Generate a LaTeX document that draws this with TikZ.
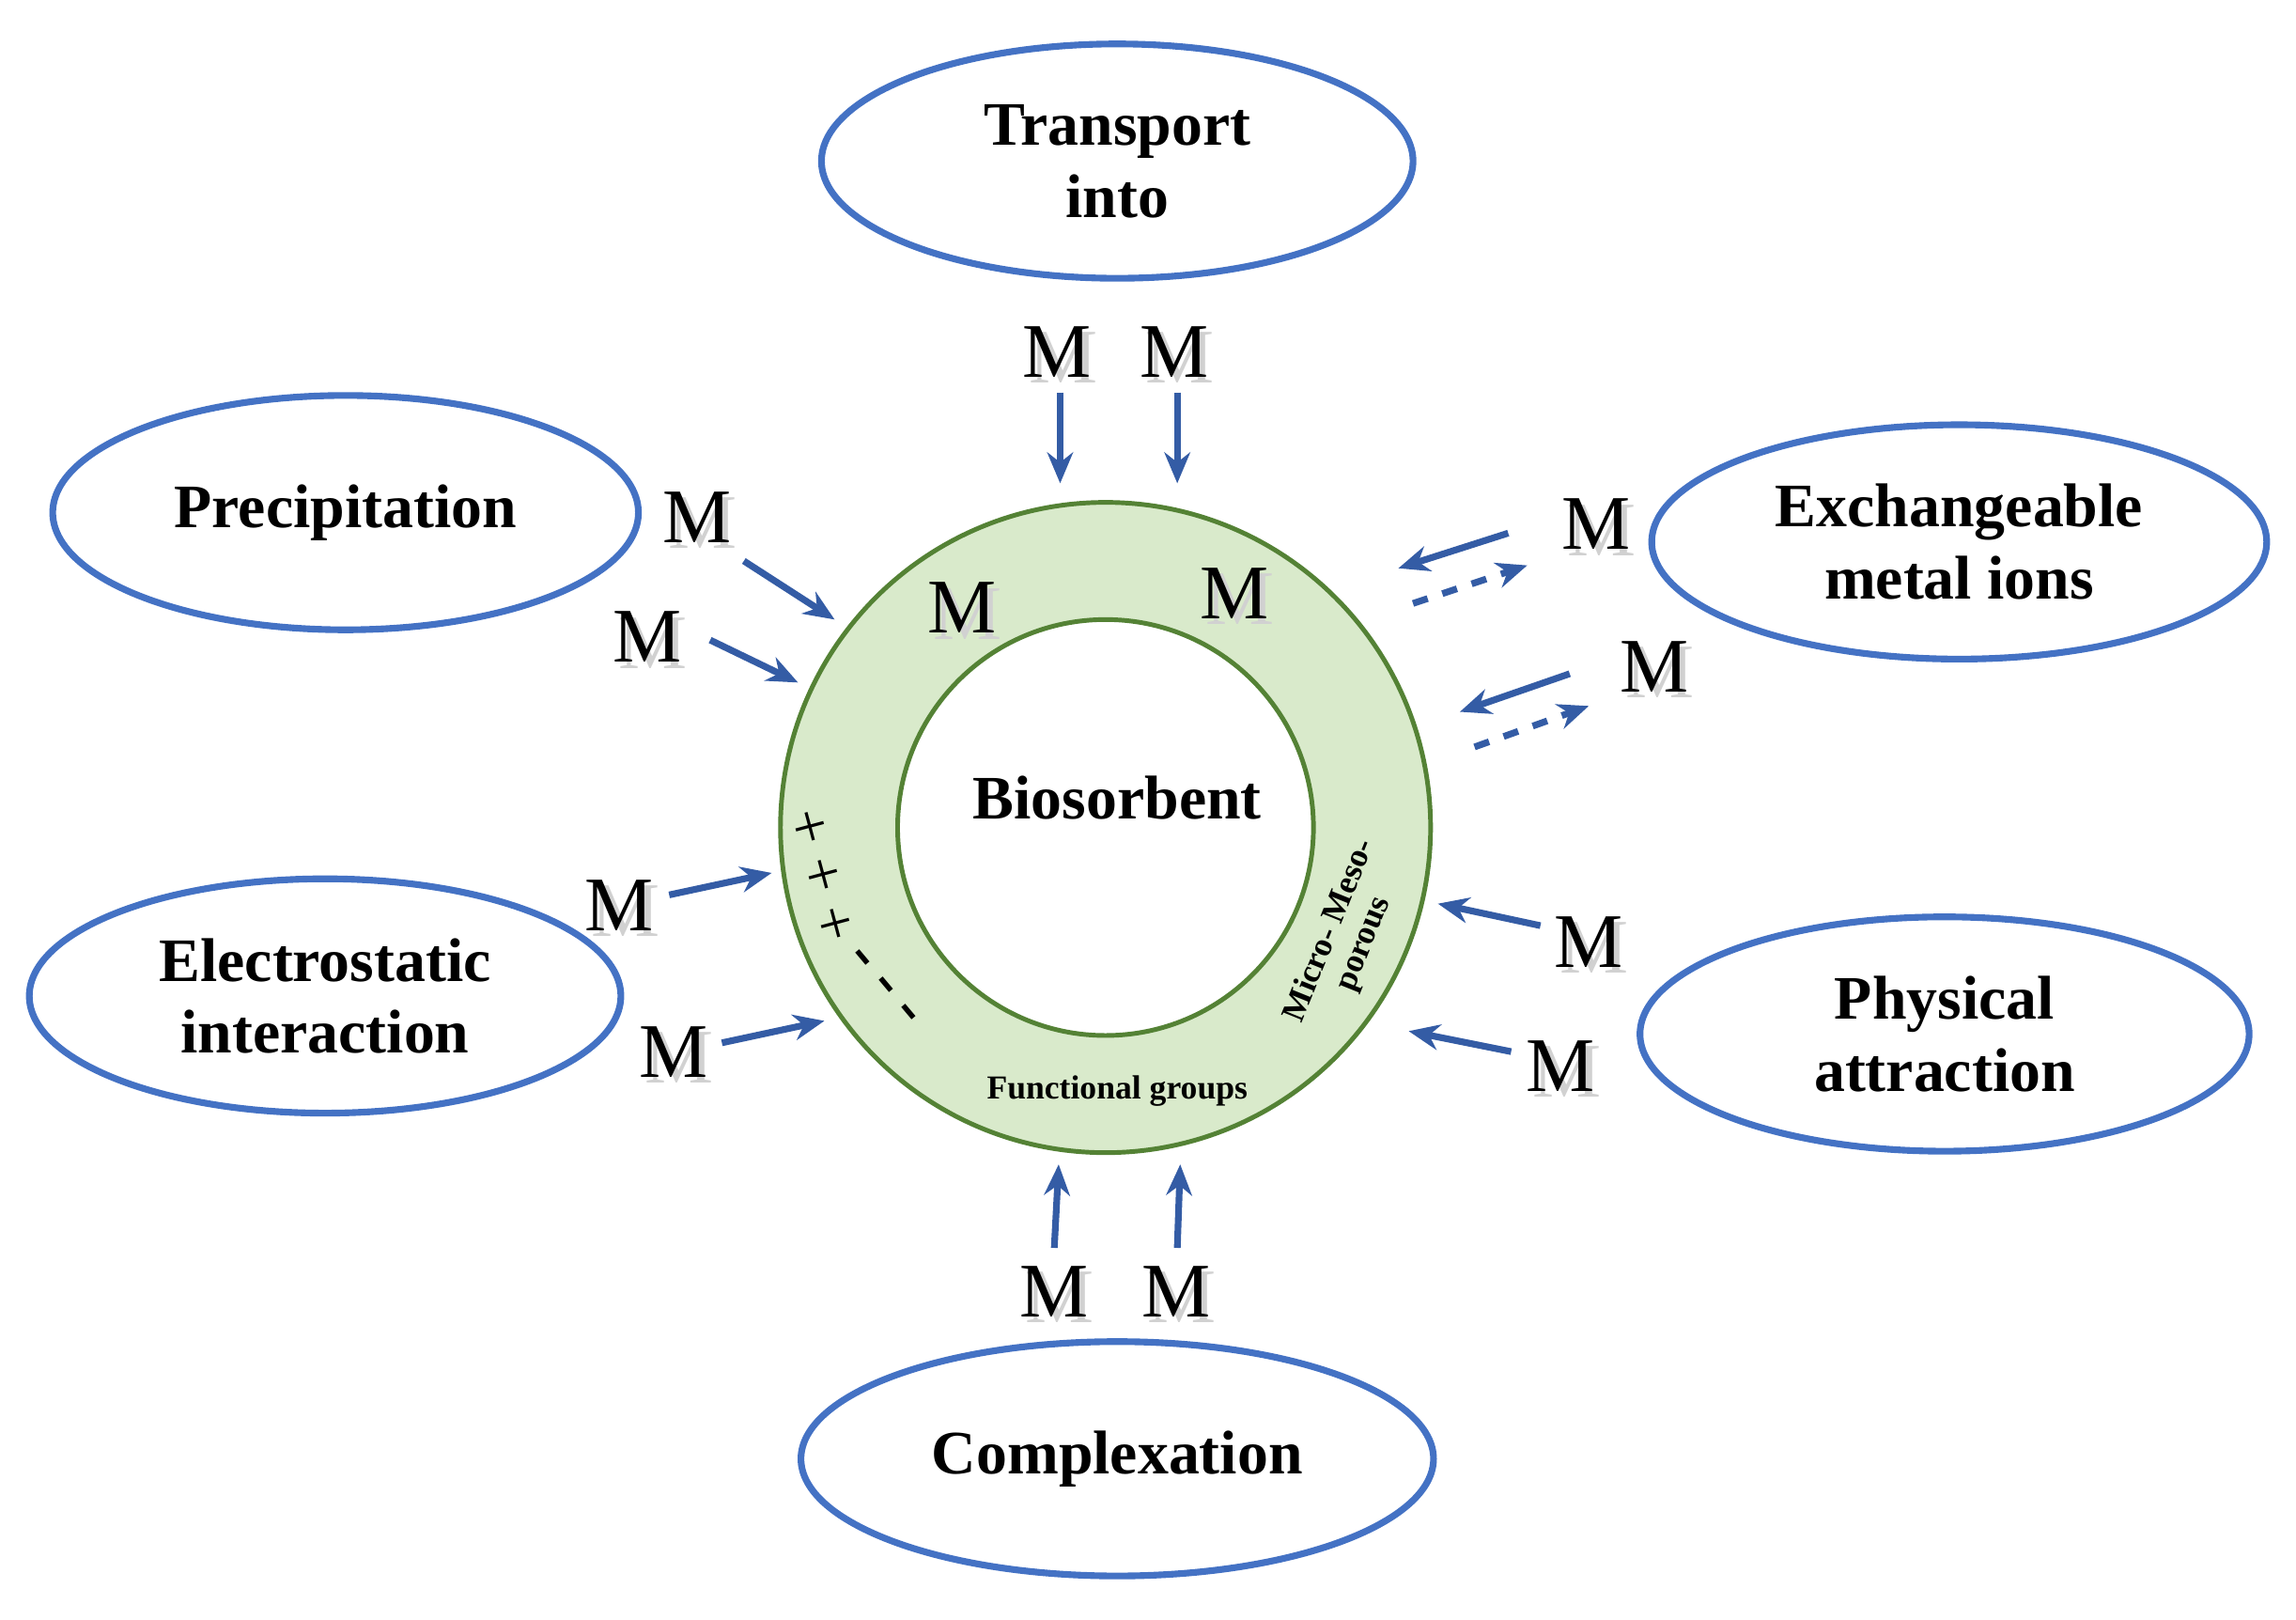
\documentclass[tikz,border=0pt]{standalone}
\usepackage{fontspec}
\setmainfont{Liberation Serif}
\usetikzlibrary{arrows.meta}
\begin{document}
\begin{tikzpicture}[x=0.01cm,y=-0.01cm,
 lab/.style={font=\bfseries\fontsize{12}{14}\selectfont,align=center},
 arr/.style={-{Stealth[length=6pt,width=5pt]},draw={rgb,255:red,52;green,92;blue,165},line width=1.3pt},
 m/.style={font=\fontsize{15}{16}\selectfont}]
\useasboundingbox (0,0) rectangle (1568,1106);
\newcommand{\mm}[2]{\node[m,text=black!18] at ([shift={(4,4)}]#1) {M};\node[m] (#2) at (#1) {M};}
\definecolor{ov}{RGB}{68,114,196}
\tikzset{oval/.style={draw=ov,line width=1.3pt}}
% ellipses
\draw[oval] (763,110) ellipse [x radius=202,y radius=80];
\node[lab] (t) at (763,110) {Transport\\into};
\draw[oval] (236,350) ellipse [x radius=200,y radius=80];
\node[lab] (p) at (236,350) {Precipitation};
\draw[oval] (1338,370) ellipse [x radius=210,y radius=80];
\node[lab] (e) at (1338,370) {Exchangeable\\metal ions};
\draw[oval] (222,680) ellipse [x radius=202,y radius=80];
\node[lab] (el) at (222,680) {Electrostatic\\interaction};
\draw[oval] (1328,706) ellipse [x radius=208,y radius=80];
\node[lab] (ph) at (1328,706) {Physical\\attraction};
\draw[oval] (763,996) ellipse [x radius=216,y radius=80];
\node[lab] (c) at (763,996) {Complexation};
% ring
\fill[even odd rule,fill={rgb,255:red,217;green,234;blue,203}] (755,565) circle (222) (755,565) circle (142);
\draw[draw={rgb,255:red,84;green,130;blue,53},line width=0.9pt] (755,565) circle (222) (755,565) circle (142);
\node[lab] (b) at (763,545) {Biosorbent};
\node[font=\bfseries\fontsize{6.5}{7}\selectfont] (fg) at (763,745) {Functional groups};
\node[font=\bfseries\fontsize{6.5}{7}\selectfont,align=center,rotate=68] (mp) at (920,640) {Micro- Meso-\\porous};
\node[font=\fontsize{12}{12}\selectfont,rotate=-75] (pl) at (560,598) {+ + +};
\node[font=\bfseries\fontsize{12}{12}\selectfont,rotate=-50] (mi) at (602,675) {- - -};
% Ms
\mm{722,240}{m1}\mm{802,240}{m2}
\mm{657,415}{m3}\mm{843,405}{m4}
\mm{476,353}{m5}\mm{442,435}{m6}
\mm{1090,358}{m7}\mm{1130,455}{m8}
\mm{423,618}{m9}\mm{460,718}{m10}
\mm{1085,643}{m11}\mm{1066,728}{m12}
\mm{720,882}{m13}\mm{803,882}{m14}
\coordinate (a1) at (724,330);\coordinate (a2) at (804,330);
\draw[arr] (724,268) -- (a1);
\draw[arr] (804,268) -- (a2);
\coordinate (a5) at (570,423);\draw[arr] (508,383) -- (a5);
\coordinate (a6) at (545,466);\draw[arr] (485,437) -- (a6);
\coordinate (a7) at (955,388);\draw[arr] (1030,364) -- (a7);
\coordinate (b7) at (1043,386);\draw[arr,dashed] (965,412) -- (b7);
\coordinate (a8) at (997,486);\draw[arr] (1072,460) -- (a8);
\coordinate (b8) at (1085,482);\draw[arr,dashed] (1007,510) -- (b8);
\coordinate (a9) at (527,596);\draw[arr] (457,611) -- (a9);
\coordinate (a10) at (563,697);\draw[arr] (493,712) -- (a10);
\coordinate (a11) at (982,617);\draw[arr] (1052,632) -- (a11);
\coordinate (a12) at (962,704);\draw[arr] (1032,718) -- (a12);
\coordinate (a13) at (723,795);\draw[arr] (720,852) -- (a13);
\coordinate (a14) at (806,795);\draw[arr] (804,852) -- (a14);
\end{tikzpicture}
\end{document}
